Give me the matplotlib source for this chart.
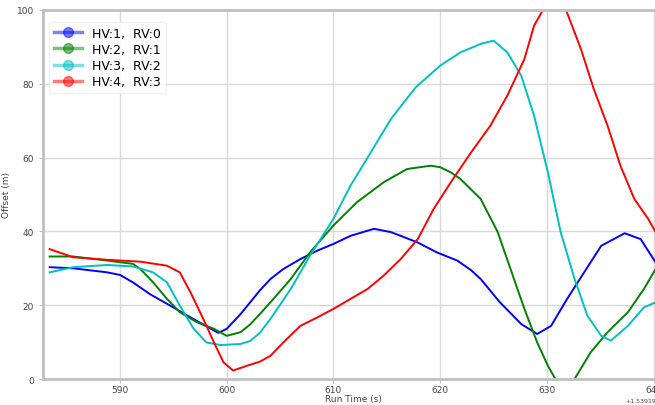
import numpy as np
import matplotlib
matplotlib.use("Agg")
import matplotlib.pyplot as plt
from matplotlib.lines import Line2D

# ---------------------------------------------------
# Data (run time in s relative to 1539190000, offset in m)
# ---------------------------------------------------

T0 = 1539190000

labels = ["HV:1,  RV:0", "HV:2,  RV:1", "HV:3,  RV:2", "HV:4,  RV:3"]
colors = ["blue", "green", "c", "red"]

t_blue = [583.4, 585.6, 588.8, 590.0, 591.2, 592.8, 595.0, 596.6, 598.1, 599.2,
          600.0, 601.3, 602.2, 603.1, 604.1, 605.3, 606.9, 608.5, 610.0, 611.6,
          613.8, 615.4, 617.9, 619.7, 621.6, 622.9, 623.8, 625.6, 627.6, 629.1,
          630.4, 631.9, 633.5, 635.1, 637.3, 638.8, 640.2]
v_blue = [30.3, 30.0, 28.9, 28.2, 26.2, 23.0, 19.4, 16.7, 14.3, 12.5,
          13.6, 17.6, 20.8, 24.0, 27.1, 29.8, 32.5, 34.8, 36.6, 38.8,
          40.7, 39.8, 37.0, 34.3, 32.1, 29.5, 27.1, 20.8, 14.9, 12.2,
          14.4, 21.7, 28.9, 36.1, 39.5, 37.9, 31.6]

t_green = [583.4, 585.6, 588.8, 591.2, 591.9, 593.1, 594.4, 595.6, 597.2, 598.8,
           600.0, 601.3, 602.2, 603.1, 604.1, 606.0, 607.8, 610.0, 612.2, 614.7,
           616.9, 619.1, 620.0, 621.0, 621.9, 623.8, 625.4, 626.6, 627.9, 629.1,
           630.1, 630.8, 631.7, 632.6, 634.1, 635.7, 637.6, 639.1, 640.2]
v_green = [33.2, 33.2, 32.1, 31.2, 29.8, 26.2, 21.7, 18.1, 15.4, 13.6,
           11.7, 12.7, 14.8, 17.6, 20.8, 27.1, 34.3, 41.6, 47.9, 53.3,
           56.9, 57.8, 57.4, 56.0, 54.2, 48.8, 39.8, 29.8, 19.0, 9.9,
           3.6, 0.0, -2.5, 0.0, 7.2, 12.7, 18.1, 24.4, 29.8]

t_cyan = [583.4, 585.6, 588.8, 591.2, 593.1, 594.4, 595.6, 596.9, 598.1, 599.4,
          601.3, 602.2, 603.1, 604.1, 606.0, 607.8, 610.0, 611.6, 613.5, 615.4,
          617.7, 620.0, 621.9, 623.8, 625.0, 626.3, 627.6, 628.8, 630.1, 631.3,
          632.6, 633.8, 635.1, 636.0, 637.6, 639.1, 640.2]
v_cyan = [28.9, 30.3, 30.9, 30.5, 28.9, 26.2, 19.9, 13.6, 9.9, 9.2,
          9.5, 10.3, 12.5, 16.3, 24.4, 33.4, 43.4, 52.4, 61.4, 70.5,
          79.0, 84.9, 88.5, 90.8, 91.7, 88.5, 82.2, 71.4, 56.0, 39.8,
          27.1, 17.2, 11.7, 10.4, 14.4, 19.4, 20.8]

t_red = [583.4, 585.6, 588.8, 591.9, 594.4, 595.6, 596.6, 597.8, 598.8, 599.7,
         600.6, 601.9, 603.1, 604.1, 605.3, 606.9, 608.5, 610.0, 611.6, 613.2,
         614.7, 616.3, 617.9, 619.4, 621.0, 622.9, 624.7, 626.3, 627.9, 628.8,
         629.7, 630.8, 631.8, 633.2, 634.4, 635.7, 636.9, 638.2, 639.5, 640.2]
v_red = [35.2, 33.0, 32.3, 31.8, 30.7, 28.9, 23.5, 16.3, 9.9, 4.5,
         2.3, 3.6, 4.7, 6.3, 9.9, 14.4, 16.7, 19.0, 21.7, 24.4,
         28.0, 32.5, 37.9, 46.1, 53.3, 61.4, 68.6, 76.8, 86.7, 95.7,
         100.3, 102.0, 100.0, 89.4, 78.6, 68.6, 57.8, 48.8, 43.4, 39.8]

series = [(t_blue, v_blue), (t_green, v_green), (t_cyan, v_cyan), (t_red, v_red)]

# ---------------------------------------------------
# Plot
# ---------------------------------------------------

fig = plt.figure(figsize=(6.55, 4.06), dpi=100)
ax = fig.add_axes([0.066, 0.064, 0.948, 0.909])

for (t, v), c in zip(series, colors):
    ax.plot(np.array(t) + T0, v, color=c, lw=1.4)

ax.set_xlim(T0 + 582.8, T0 + 641.0)
ax.set_ylim(0, 100)
ax.set_yticks([0, 20, 40, 60, 80, 100])
ax.set_xticks([T0 + 590, T0 + 600, T0 + 610, T0 + 620, T0 + 630, T0 + 640])

ax.grid(True, color="#d9d9d9", lw=1.0)
for s in ax.spines.values():
    s.set_color("#c0c0c0")
    s.set_linewidth(2)

ax.tick_params(labelsize=6.5, colors="#c0c0c0", labelcolor="#444444", length=3)
ax.tick_params(axis="x", pad=1.5)
ax.xaxis.get_offset_text().set_fontsize(4.5)
ax.xaxis.get_offset_text().set_color("#444444")

ax.set_xlabel("Run Time (s)", fontsize=6.5, color="#444444", labelpad=0)
ax.set_ylabel("Offset (m)", fontsize=6.5, color="#444444", labelpad=4)

handles = [Line2D([0], [0], color=c, alpha=0.5, lw=2.5, marker="o",
                  markersize=7, markerfacecolor=c, markeredgecolor=c)
           for c in colors]
ax.legend(handles, labels, loc="upper left", fontsize=9, framealpha=0.8,
          edgecolor="#eeeeee", handlelength=2.2, labelspacing=0.25,
          borderpad=0.4, bbox_to_anchor=(0.0, 0.985))

fig.savefig("out.png", dpi=100)
